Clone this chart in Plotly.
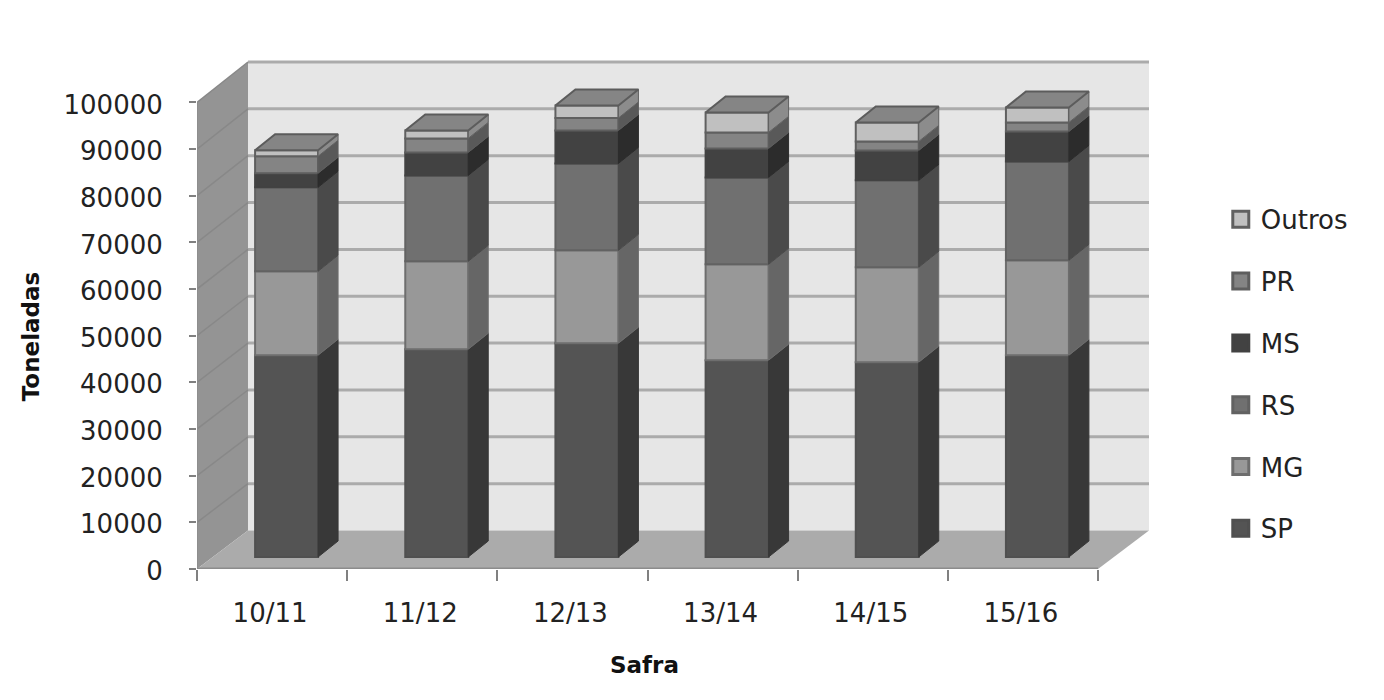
import plotly.graph_objects as go

categories = ["10/11", "11/12", "12/13", "13/14", "14/15", "15/16"]
series_names = ["SP", "MG", "RS", "MS", "PR", "Outros"]
SP = [43250, 44540, 45820, 42180, 41760, 43250]
MG = [18000, 18840, 19910, 20560, 20340, 20340]
RS = [18000, 18420, 18630, 18630, 18630, 21200]
MS = [3000, 4930, 7070, 6210, 6420, 6420]
PR = [3640, 3000, 2660, 3430, 1930, 1930]
Outros = [1280, 1710, 2700, 4280, 4070, 3210]
series_values = [SP, MG, RS, MS, PR, Outros]
y_ticks = [0, 10000, 20000, 30000, 40000, 50000, 60000, 70000, 80000, 90000, 100000]

front = ["#545454", "#989898", "#707070", "#424242", "#848484", "#c0c0c0"]
side = ["#383838", "#666666", "#4a4a4a", "#2c2c2c", "#595959", "#8c8c8c"]
edge = ["#505050", "#6e6e6e", "#626262", "#424242", "#5e5e5e", "#606060"]

FONT = "DejaVu Sans"
TXT = "#222222"
PX_X = 150.2      # pixels per category
PX_Y = 4.67 / 1000  # pixels per value unit
WALL_SCALE = 4.69 / 4.67
X_MIN, X_MAX = -0.5, 5.5
WALL_DX = 51 / PX_X
WALL_DY = 38.5 / PX_Y
X_TOP = X_MAX + WALL_DX
Y_TOP = 100000 * WALL_SCALE + WALL_DY + 2 / PX_Y
BAR_DX = 14.5 / PX_X
BAR_DY = 12 / PX_Y
BAR_W = 63 / PX_X
DEPTH_X = 20 / PX_X
DEPTH_Y = 16 / PX_Y

fig = go.Figure()

# anchor for the category axis
fig.add_trace(go.Scatter(x=categories, y=[0] * 6, mode="markers", marker=dict(opacity=0),
                         showlegend=False, hoverinfo="skip"))

cum = [0] * 6
for k, (name, vals) in enumerate(zip(series_names, series_values)):
    fig.add_trace(go.Bar(
        x=[i + BAR_DX for i in range(6)], y=vals,
        base=[c + BAR_DY for c in cum], width=BAR_W, name=name,
        xaxis="x2", yaxis="y", showlegend=False,
        marker=dict(color=front[k], line=dict(color=edge[k], width=2)),
    ))
    # side faces derived from the stacked values
    for i in range(6):
        x0 = i + BAR_DX + BAR_W / 2
        y0 = cum[i] + BAR_DY
        y1 = y0 + vals[i]
        fig.add_trace(go.Scatter(
            x=[x0, x0 + DEPTH_X, x0 + DEPTH_X, x0, x0],
            y=[y0, y0 + DEPTH_Y, y1 + DEPTH_Y, y1, y0],
            mode="lines", fill="toself", fillcolor=side[k],
            line=dict(color=edge[k] if k in (1, 4, 5) else side[k], width=1),
            xaxis="x2", yaxis="y", showlegend=False, hoverinfo="skip",
        ))
    cum = [c + v for c, v in zip(cum, vals)]

# top faces
for i in range(6):
    xl = i + BAR_DX - BAR_W / 2
    xr = xl + BAR_W
    yt = cum[i] + BAR_DY
    fig.add_trace(go.Scatter(
        x=[xl, xr, xr + DEPTH_X, xl + DEPTH_X, xl],
        y=[yt, yt, yt + DEPTH_Y, yt + DEPTH_Y, yt],
        mode="lines", fill="toself", fillcolor="#858585",
        line=dict(color="#5c5c5c", width=2),
        xaxis="x2", yaxis="y", showlegend=False, hoverinfo="skip",
    ))

# legend entries, top to bottom
for k in reversed(range(6)):
    fig.add_trace(go.Scatter(
        x=[None], y=[None], name=series_names[k], legendgroup=series_names[k],
        mode="markers", xaxis="x2", yaxis="y", hoverinfo="skip",
        marker=dict(symbol="square", size=16, color=front[k], line=dict(color=edge[k], width=3)),
    ))

# walls, floor and gridlines
def poly(pts, fill):
    path = "M" + " L".join(f"{a},{b}" for a, b in pts) + " Z"
    return dict(type="path", path=path, xref="x2", yref="y", fillcolor=fill,
                line=dict(width=0), layer="below")

def wall_y(t):
    return t * WALL_SCALE + WALL_DY

shapes = [
    poly([(X_MIN + WALL_DX, wall_y(0)), (X_TOP, wall_y(0)), (X_TOP, wall_y(100000)), (X_MIN + WALL_DX, wall_y(100000))], "#e6e6e6"),
    poly([(X_MIN, 0), (X_MIN + WALL_DX, wall_y(0)), (X_MIN + WALL_DX, wall_y(100000)), (X_MIN, 100000)], "#949494"),
    poly([(X_MIN, 0), (X_MAX, 0), (X_TOP, wall_y(0)), (X_MIN + WALL_DX, wall_y(0))], "#ababab"),
]
for t in y_ticks:
    if t > 0:
        shapes.append(dict(type="line", xref="x2", yref="y", x0=X_MIN + WALL_DX, x1=X_TOP,
                           y0=wall_y(t), y1=wall_y(t), layer="below",
                           line=dict(color="#ababab", width=3)))
        shapes.append(dict(type="line", xref="x2", yref="y", x0=X_MIN, x1=X_MIN + WALL_DX,
                           y0=t, y1=wall_y(t), layer="below",
                           line=dict(color="#888888", width=1.5)))
shapes.append(dict(type="line", xref="x2", yref="y", x0=X_MIN, x1=X_MAX, y0=0, y1=0,
                   layer="below", line=dict(color="#8c8c8c", width=3)))
shapes.append(dict(type="line", xref="x2", yref="y", x0=X_MIN, x1=X_MIN, y0=0, y1=100000,
                   layer="below", line=dict(color="#8c8c8c", width=1.5)))

plot_w = (X_TOP - X_MIN) * PX_X
plot_h = Y_TOP * PX_Y
plot_l = 197
plot_b = 131
plot_r = 1384 - plot_l - plot_w
plot_t = 700 - plot_b - plot_h

fig.update_layout(
    width=1384, height=700,
    margin=dict(l=plot_l, r=plot_r, t=plot_t, b=plot_b, pad=0),
    paper_bgcolor="white", plot_bgcolor="white",
    barmode="overlay", shapes=shapes,
    font=dict(family=FONT, size=26, color=TXT),
    xaxis=dict(type="category", categoryorder="array", categoryarray=categories,
               range=[X_MIN, X_TOP], tickson="boundaries", ticks="outside", ticklen=11,
               tickcolor="#808080", tickwidth=1.5, showgrid=False, zeroline=False,
               showline=False, ticklabelstandoff=26, ticklabelshift=-2,
               tickfont=dict(size=26, family=FONT, color=TXT)),
    xaxis2=dict(overlaying="x", range=[X_MIN, X_TOP], visible=False, anchor="y"),
    yaxis=dict(range=[0, Y_TOP], tickvals=y_ticks, tickformat="d", ticks="outside", ticklen=7,
               tickcolor="#808080", tickwidth=1.5, showgrid=False, zeroline=False,
               showline=False, ticklabelstandoff=21, ticklabelshift=2,
               tickfont=dict(size=26, family=FONT, color=TXT)),
    legend=dict(x=(1221 - plot_l) / plot_w, xanchor="left", y=0.733, yanchor="top",
                traceorder="grouped", tracegroupgap=25,
                font=dict(size=26, family=FONT, color=TXT), bgcolor="rgba(0,0,0,0)"),
    annotations=[
        dict(text="<b>Safra</b>", xref="paper", yref="paper", showarrow=False,
             x=(645 - plot_l) / plot_w, y=-(665 - 569) / plot_h, xanchor="center", yanchor="middle",
             font=dict(size=23, family=FONT, color="#111111")),
        dict(text="<b>Toneladas</b>", xref="paper", yref="paper", showarrow=False, textangle=-90,
             x=(31 - plot_l) / plot_w, y=(569 - 336) / plot_h, xanchor="center", yanchor="middle",
             font=dict(size=23, family=FONT, color="#111111")),
    ],
)

fig.write_html("out.html", config={"displayModeBar": False},
               post_script="document.body.style.margin='0';")
